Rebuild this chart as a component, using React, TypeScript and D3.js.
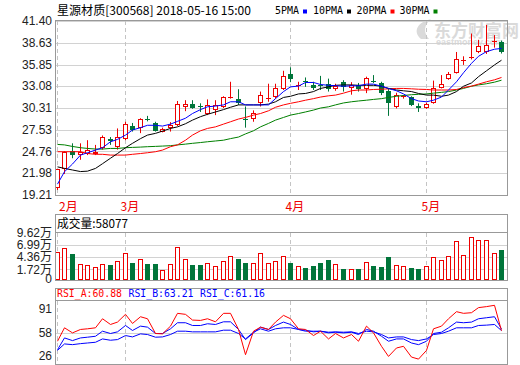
import React from "react";
import { scaleBand, scaleLinear, line } from "d3";

// K-line data, 2018-02-09 .. 2018-05-16 (60 trading days)
const opens = [20.06, 22.5, 24.86, 24.26, 24.5, 24.4, 25.15, 26.3, 25.3, 26.4, 28.0, 27.8, 28.9, 28.4, 27.3, 27.8, 28.1, 30.46, 30.8, 30.5, 29.5, 30.1, 30.4, 31.55, 31.4, 28.95, 28.85, 31.0, 31.5, 31.65, 32.7, 34.6, 33.1, 33.8, 33.3, 33.2, 33.4, 32.7, 33.6, 32.8, 33.2, 32.7, 33.8, 33.5, 32.45, 30.4, 31.7, 31.65, 30.55, 30.25, 30.9, 32.9, 34.05, 34.8, 36.4, 36.7, 37.45, 37.45, 38.85, 38.75];
const highs = [22.5, 24.8, 25.8, 25.8, 26.2, 25.6, 26.8, 26.6, 27.7, 28.55, 28.4, 29.0, 29.3, 28.55, 27.8, 28.5, 31.2, 31.3, 31.3, 30.9, 31.4, 31.3, 31.8, 33.65, 32.7, 30.5, 30.0, 32.4, 33.4, 33.4, 35.05, 35.5, 33.65, 34.2, 33.65, 34.4, 34.05, 33.4, 33.85, 33.6, 33.5, 34.3, 34.5, 33.65, 32.8, 32.25, 31.95, 31.8, 30.9, 31.0, 33.8, 34.5, 34.9, 37.45, 36.9, 39.8, 39.0, 40.9, 39.6, 38.9];
const lows = [19.85, 21.9, 23.9, 23.7, 24.3, 24.3, 25.0, 25.6, 25.0, 26.2, 27.3, 27.1, 28.6, 27.3, 27.2, 27.3, 28.0, 29.9, 30.2, 29.8, 29.4, 29.4, 30.3, 31.5, 30.7, 27.8, 28.55, 30.5, 31.1, 31.5, 32.6, 33.6, 32.6, 33.0, 32.6, 32.6, 32.4, 32.5, 32.4, 32.0, 32.4, 32.2, 33.5, 31.95, 29.3, 30.25, 31.5, 30.55, 29.8, 30.2, 30.85, 32.8, 33.9, 34.7, 35.8, 36.5, 37.3, 37.2, 38.0, 37.25];
const closes = [22.48, 24.7, 24.3, 24.73, 24.9, 24.7, 26.64, 26.1, 26.64, 28.21, 27.5, 28.85, 28.75, 27.4, 27.6, 28.2, 30.8, 30.8, 30.3, 30.4, 30.75, 30.65, 31.65, 31.65, 30.97, 28.85, 29.7, 31.9, 31.55, 32.8, 34.4, 34.0, 33.2, 33.7, 32.8, 33.1, 32.7, 33.15, 33.0, 33.3, 32.7, 34.1, 33.65, 32.25, 30.97, 31.95, 31.8, 30.7, 30.25, 30.8, 32.9, 33.35, 34.6, 36.6, 36.45, 36.75, 38.2, 38.4, 38.9, 37.4];

const ma5 = [20.6, 22.18, 23.16, 24.3, 24.6, 24.94, 25.24, 26.0, 26.3, 26.85, 27.5, 27.8, 28.1, 28.1, 28.0, 28.25, 28.6, 29.0, 29.6, 30.1, 30.46, 30.55, 30.7, 31.1, 31.1, 30.7, 30.7, 30.7, 30.7, 31.5, 32.4, 33.0, 33.1, 33.56, 33.56, 33.3, 33.2, 33.15, 33.08, 33.14, 33.14, 33.35, 33.35, 33.08, 32.8, 32.5, 32.1, 31.5, 31.2, 31.1, 31.3, 31.7, 32.6, 33.65, 34.8, 36.0, 36.9, 37.5, 37.8, 37.9];
const ma10 = [22.8, 22.6, 22.4, 22.2, 22.25, 22.6, 23.2, 23.9, 24.5, 25.24, 25.8, 26.4, 26.85, 27.07, 27.36, 27.7, 27.9, 28.3, 28.76, 29.2, 29.5, 29.8, 30.1, 30.4, 30.7, 30.7, 30.7, 30.7, 30.8, 31.1, 31.65, 31.8, 32.1, 32.16, 32.4, 32.8, 33.0, 33.2, 33.25, 33.25, 33.2, 33.2, 33.2, 33.08, 32.8, 32.6, 32.5, 32.4, 32.16, 31.95, 31.95, 31.8, 31.95, 32.4, 33.08, 33.5, 34.3, 35.05, 35.8, 36.4];
const ma20 = [24.73, 24.73, 24.73, 24.73, 24.5, 24.4, 24.4, 24.3, 24.3, 24.3, 24.4, 24.5, 24.6, 24.73, 24.94, 25.37, 25.6, 26.2, 26.85, 27.4, 27.7, 27.9, 28.25, 28.55, 28.9, 29.1, 29.4, 29.6, 29.95, 30.4, 30.7, 30.9, 31.1, 31.3, 31.5, 31.7, 31.86, 31.95, 32.2, 32.5, 32.6, 32.6, 32.67, 32.7, 32.75, 32.8, 32.8, 32.75, 32.7, 32.67, 32.6, 32.6, 32.6, 32.67, 32.9, 33.1, 33.35, 33.65, 33.9, 34.2];
const ma30 = [25.66, 25.6, 25.4, 25.24, 25.15, 25.07, 25.07, 25.15, 25.15, 25.24, 25.28, 25.32, 25.37, 25.41, 25.45, 25.5, 25.6, 25.7, 25.8, 25.9, 26.0, 26.1, 26.2, 26.4, 26.6, 27.0, 27.4, 27.9, 28.34, 28.76, 29.1, 29.4, 29.6, 29.8, 30.04, 30.3, 30.46, 30.7, 30.95, 31.1, 31.2, 31.3, 31.4, 31.5, 31.65, 31.8, 31.9, 32.0, 32.05, 32.1, 32.2, 32.3, 32.4, 32.6, 32.8, 33.08, 33.25, 33.4, 33.6, 33.85];

const volumes = [54850, 61970, 49870, 28520, 26380, 21400, 28520, 26380, 34920, 51290, 31360, 39190, 28520, 28520, 15710, 28520, 64100, 39190, 26380, 26380, 29940, 24250, 34920, 46310, 39190, 31360, 31360, 51290, 29940, 34920, 45600, 31360, 24250, 20690, 24250, 31360, 37060, 28520, 17840, 17840, 17840, 32790, 24250, 22110, 43460, 25670, 24250, 20690, 17840, 24250, 43460, 37060, 45600, 77620, 47730, 85450, 79760, 79760, 51290, 58077];

const rsiA = [46.4, 65.0, 58.0, 62.7, 63.6, 65.0, 77.5, 69.6, 72.9, 83.6, 71.0, 80.3, 77.5, 57.1, 56.6, 67.3, 85.0, 83.6, 75.7, 75.2, 77.5, 73.3, 85.0, 85.0, 62.7, 27.8, 60.3, 65.9, 62.7, 72.9, 82.2, 77.5, 63.6, 62.7, 54.3, 60.3, 49.6, 57.1, 51.0, 55.7, 46.4, 67.3, 58.0, 39.4, 25.4, 37.1, 39.4, 24.5, 21.7, 33.8, 63.6, 67.3, 77.5, 87.3, 85.0, 85.9, 92.9, 94.3, 96.1, 60.88];
const rsiB = [34.7, 51.0, 47.3, 51.0, 52.0, 53.3, 60.3, 57.1, 59.4, 68.2, 61.3, 67.3, 65.9, 57.1, 57.1, 63.6, 72.0, 72.0, 68.2, 68.2, 70.6, 69.6, 73.3, 73.3, 62.7, 48.7, 58.0, 65.9, 62.7, 68.2, 72.9, 69.6, 62.7, 61.7, 59.4, 60.3, 58.0, 58.9, 58.0, 58.9, 55.7, 62.7, 60.3, 53.3, 46.4, 49.6, 49.6, 44.0, 41.7, 46.4, 57.1, 58.9, 65.0, 72.9, 72.0, 72.9, 77.5, 78.9, 80.3, 63.21];
const rsiC = [33.8, 42.7, 41.7, 43.1, 44.0, 45.0, 49.6, 47.8, 48.7, 54.3, 52.4, 56.6, 55.7, 52.0, 52.4, 55.7, 60.3, 60.3, 59.4, 59.4, 59.4, 59.4, 61.7, 61.7, 57.1, 49.6, 58.9, 63.6, 60.3, 63.6, 65.0, 65.0, 62.7, 60.3, 60.3, 60.3, 58.9, 59.4, 58.9, 59.4, 57.1, 60.3, 59.4, 55.7, 51.0, 52.4, 52.4, 48.7, 47.3, 49.6, 55.7, 57.1, 60.3, 65.0, 65.0, 65.0, 68.2, 68.7, 69.6, 61.16];

const priceTicks = [19.21, 21.98, 24.76, 27.53, 30.31, 33.08, 35.85, 38.63, 41.4];
const volTicks = [17200, 43600, 69900, 96200];
const rsiTicks = [26, 58, 91];
const months = [
  { label: "2月", index: 0 },
  { label: "3月", index: 9 },
  { label: "4月", index: 31 },
  { label: "5月", index: 49 },
];
const legend = [
  { name: "5PMA", color: "#0000ff" },
  { name: "10PMA", color: "#000000" },
  { name: "20PMA", color: "#ff0000" },
  { name: "30PMA", color: "#008000" },
];

const RED = "#ee0000";
const GREEN = "#00753a";
const BORDER = "#999";
const GRID = "#d2d2d2";
const LEFT = 55.5;
const RIGHT = 507.5;
const AXIS_FONT = "'Liberation Sans', Arial, 'Noto Sans CJK SC', sans-serif";
const CJK_FONT = "'Noto Sans CJK SC', 'Liberation Sans', sans-serif";
const MONO_FONT = "'DejaVu Sans Mono', 'Liberation Mono', monospace";

function App() {
  const idx = closes.map((_, i) => i);
  const xScale = scaleBand<number>().domain(idx).range([53.7, 505.3]);
  const bw = xScale.bandwidth();
  const cx = (i: number) => Math.floor((xScale(i) as number) + bw / 2) + 0.5;

  const yPrice = scaleLinear().domain([19.21, 41.4]).range([195, 21]);
  const yVol = scaleLinear().domain([17200, 96200]).range([269.3, 232.3]);
  const yRsi = scaleLinear().domain([26, 91]).range([356, 309]);

  const crisp = (v: number) => Math.round(v) + 0.5;

  const priceLine = line<number>()
    .x((_, i) => cx(i))
    .y((d) => yPrice(d));
  const rsiLine = line<number>()
    .x((_, i) => cx(i))
    .y((d) => yRsi(d));

  const maSeries = [
    { data: ma30, color: "#008000" },
    { data: ma20, color: "#ff0000" },
    { data: ma10, color: "#000000" },
    { data: ma5, color: "#0000ff" },
  ];

  return (
    <div style={{ position: "fixed", left: 0, top: 0 }}>
      <svg width={520} height={365} style={{ display: "block", background: "#fff" }}>
        {/* header */}
        <text x={57} y={14.5} fontSize={12} fontFamily={CJK_FONT} fill="#000" textLength={194} lengthAdjust="spacingAndGlyphs">
          星源材质[300568] 2018-05-16 15:00
        </text>
        {legend.map((d, k) => {
          const xs = [275, 313, 356.5, 399.5][k];
          const w = d.name.length * 6;
          return (
            <g key={d.name}>
              <text x={xs} y={13.5} fontSize={11} fontFamily={MONO_FONT} fill="#000" textLength={w} lengthAdjust="spacingAndGlyphs">
                {d.name}
              </text>
              <rect x={xs + w + 4} y={9.5} width={4} height={4} fill={d.color} />
            </g>
          );
        })}

        {/* watermark */}
        <g fill="#dadada">
          <path d="M421,39 C412,31 418,22 431,19 C424,25 423,32 429,39 Z" />
          <text x={434} y={37} fontSize={17} fontWeight="bold" fontFamily={CJK_FONT}>东方财富网</text>
          <text x={436} y={45} fontSize={9} fontWeight="bold" fontFamily={AXIS_FONT}>eastmoney.com</text>
        </g>

        {/* price grid */}
        {priceTicks.map((t) => (
          <g key={t}>
            <line x1={LEFT} x2={RIGHT} y1={crisp(yPrice(t))} y2={crisp(yPrice(t))} stroke={GRID} />
            <text x={52} y={yPrice(t)} dy="0.35em" textAnchor="end" fontSize={12} fontFamily={AXIS_FONT} fill="#222">
              {t.toFixed(2)}
            </text>
          </g>
        ))}

        {/* month dashed lines */}
        {months.map((m) => (
          <g key={m.label} stroke="#c4c4c4" strokeDasharray="4,3">
            <line x1={cx(m.index)} x2={cx(m.index)} y1={21} y2={195} />
            <line x1={cx(m.index)} x2={cx(m.index)} y1={233} y2={280} />
            <line x1={cx(m.index)} x2={cx(m.index)} y1={301} y2={364} />
          </g>
        ))}
        {months.map((m) => (
          <text key={m.label} x={Math.max(cx(m.index) - 5, 59)} y={210.5} fontSize={12} fontFamily={CJK_FONT} fill={RED}>
            {m.label}
          </text>
        ))}

        {/* candles */}
        {idx.map((i) => {
          const o = opens[i];
          const c = closes[i];
          const up = c >= o;
          const x = cx(i);
          const top = Math.round(yPrice(Math.max(o, c)));
          const bot = Math.round(yPrice(Math.min(o, c)));
          const col = up ? RED : GREEN;
          return (
            <g key={i}>
              <line x1={x} x2={x} y1={yPrice(highs[i])} y2={yPrice(lows[i])} stroke={col} />
              {up ? (
                bot - top < 2 ? (
                  <line x1={x - 2.5} x2={x + 2.5} y1={top + 0.5} y2={top + 0.5} stroke={col} />
                ) : (
                  <rect x={x - 2} y={top + 0.5} width={4} height={bot - top - 1} fill="#fff" stroke={col} />
                )
              ) : (
                <rect x={x - 2.5} y={top} width={5} height={Math.max(bot - top, 1)} fill={col} />
              )}
            </g>
          );
        })}

        {/* moving averages */}
        {maSeries.map((s) => (
          <path key={s.color} d={priceLine(s.data) || ""} fill="none" stroke={s.color} strokeWidth={1} />
        ))}

        <rect x={LEFT} y={20.5} width={RIGHT - LEFT} height={175} fill="none" stroke={BORDER} />

        {/* volume panel */}
        {volTicks.slice(0, 3).map((t) => (
          <line key={t} x1={LEFT} x2={RIGHT} y1={crisp(yVol(t))} y2={crisp(yVol(t))} stroke={GRID} />
        ))}
        {volTicks.map((t) => (
          <text key={t} x={52} y={yVol(t)} dy="0.35em" textAnchor="end" fontSize={12} fontFamily={AXIS_FONT} fill="#222">
            {(t / 10000).toFixed(2)}万
          </text>
        ))}
        <text x={52} y={279} dy="0.35em" textAnchor="end" fontSize={12} fontFamily={AXIS_FONT} fill="#222">0</text>
        {volumes.map((v, i) => {
          const up = closes[i] >= opens[i];
          const x = cx(i);
          const top = Math.round(yVol(v));
          return up ? (
            <rect key={i} x={x - 2} y={top + 0.5} width={4} height={279.5 - (top + 0.5)} fill="#fff" stroke={RED} />
          ) : (
            <rect key={i} x={x - 2.5} y={top} width={5} height={280 - top} fill={GREEN} />
          );
        })}
        <rect x={LEFT} y={214.5} width={RIGHT - LEFT} height={66} fill="none" stroke={BORDER} />
        <line x1={LEFT} x2={RIGHT} y1={232.5} y2={232.5} stroke={BORDER} />
        <text x={57} y={227.5} fontSize={12} fontFamily={CJK_FONT} fill="#000" textLength={71} lengthAdjust="spacingAndGlyphs">
          成交量:{volumes[volumes.length - 1]}
        </text>

        {/* RSI panel */}
        <line x1={LEFT} x2={RIGHT} y1={crisp(yRsi(58))} y2={crisp(yRsi(58))} stroke={GRID} />
        {rsiTicks.map((t) => (
          <text key={t} x={52} y={yRsi(t)} dy="0.35em" textAnchor="end" fontSize={12} fontFamily={AXIS_FONT} fill="#222">
            {t}
          </text>
        ))}
        <path d={rsiLine(rsiC) || ""} fill="none" stroke="#0000ff" />
        <path d={rsiLine(rsiB) || ""} fill="none" stroke="#0000ff" />
        <path d={rsiLine(rsiA) || ""} fill="none" stroke="#ff0000" />
        <rect x={LEFT} y={288.5} width={RIGHT - LEFT} height={76} fill="none" stroke={BORDER} />
        <line x1={LEFT} x2={RIGHT} y1={300.5} y2={300.5} stroke={BORDER} />
        <text x={57} y={296.5} fontSize={11} fontFamily={MONO_FONT} fill="#ff0000" textLength={65} lengthAdjust="spacingAndGlyphs">
          RSI_A:{rsiA[rsiA.length - 1].toFixed(2)}
        </text>
        <text x={128.5} y={296.5} fontSize={11} fontFamily={MONO_FONT} fill="#0000ff" textLength={65} lengthAdjust="spacingAndGlyphs">
          RSI_B:{rsiB[rsiB.length - 1].toFixed(2)}
        </text>
        <text x={200} y={296.5} fontSize={11} fontFamily={MONO_FONT} fill="#0000ff" textLength={65} lengthAdjust="spacingAndGlyphs">
          RSI_C:{rsiC[rsiC.length - 1].toFixed(2)}
        </text>
      </svg>
    </div>
  );
}

export default App;
